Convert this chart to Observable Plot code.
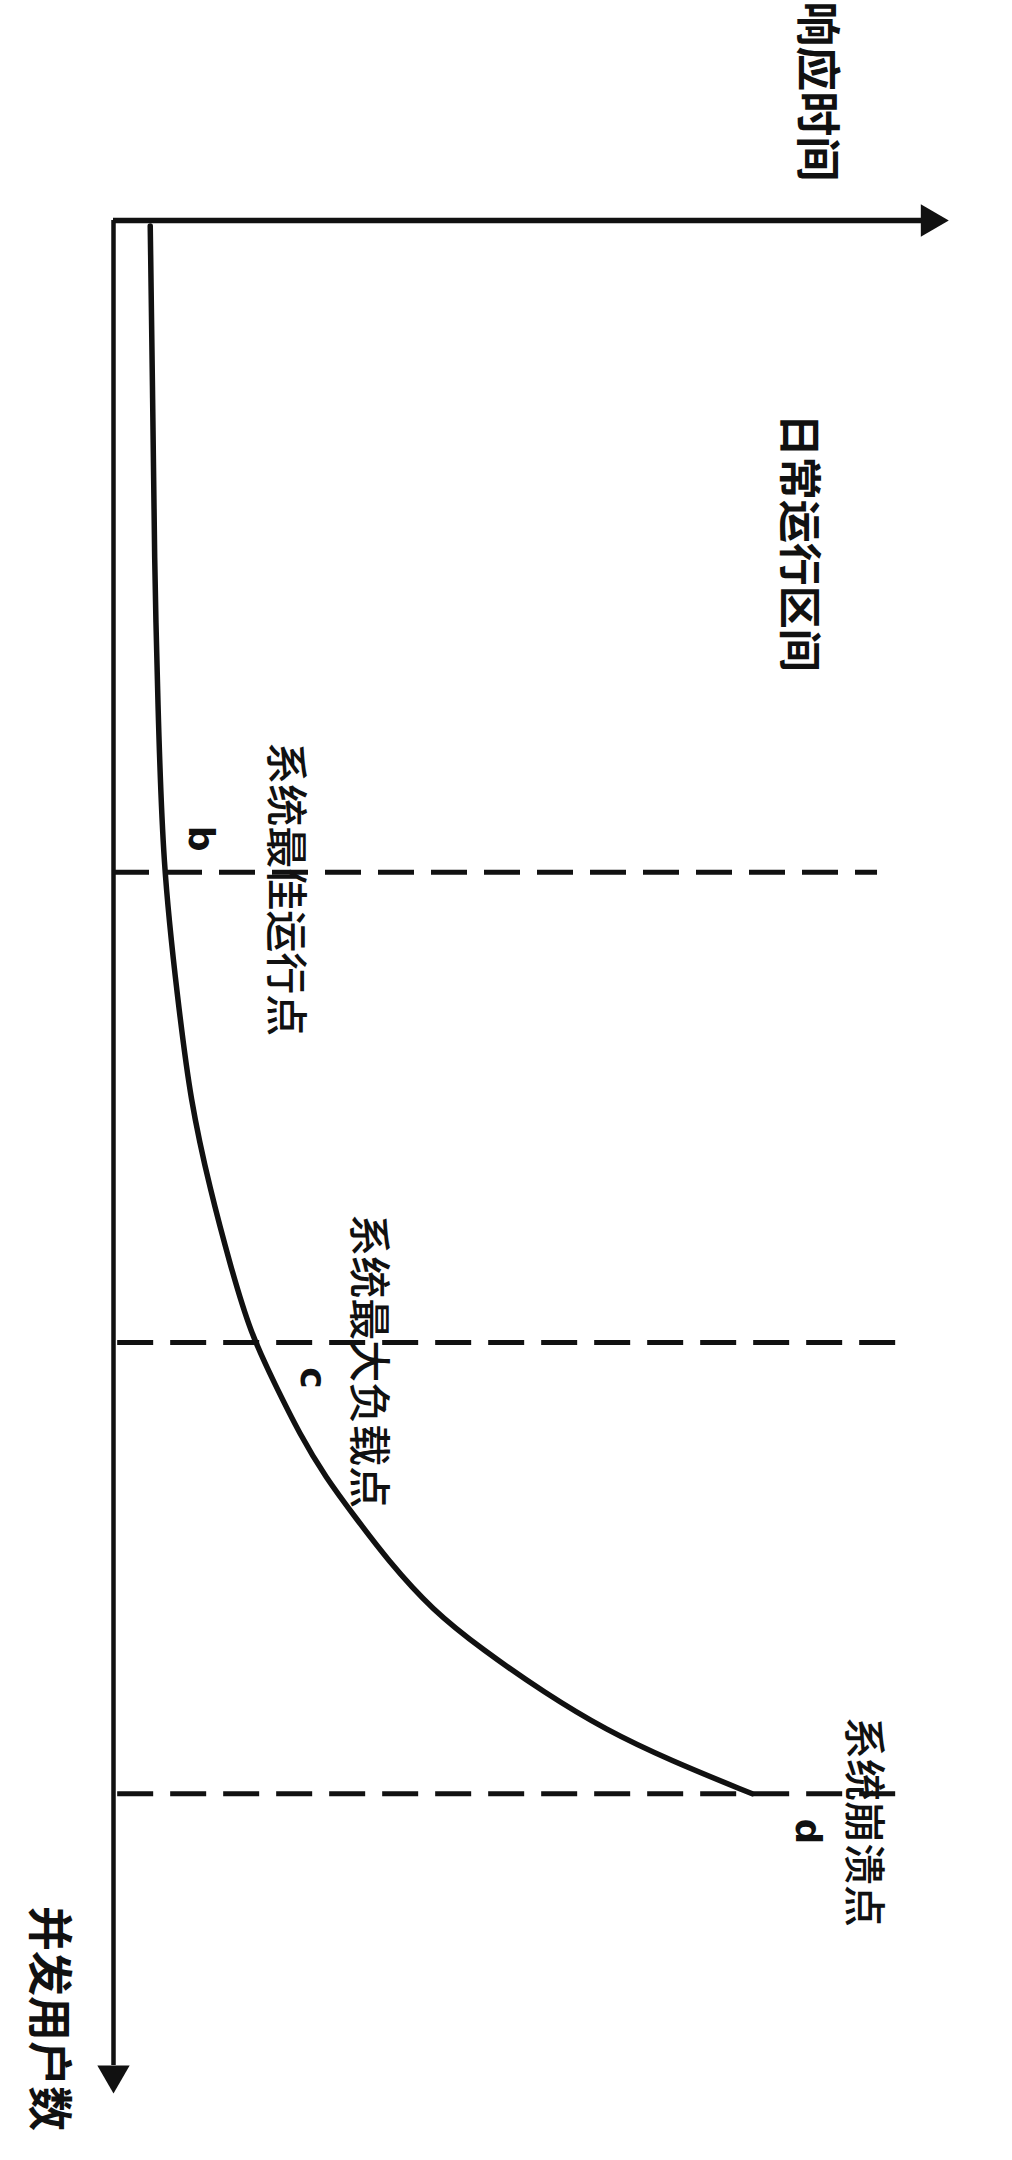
<!DOCTYPE html>
<html>
<head>
<meta charset="utf-8">
<script src="https://cdn.jsdelivr.net/npm/d3@7"></script>
<script src="https://cdn.jsdelivr.net/npm/@observablehq/plot@0.6"></script>
<style>
  html, body { margin: 0; padding: 0; background: #ffffff; }
  #chart svg { display: block; }
</style>
</head>
<body>
<div id="chart"></div>
<script>
// ---- Data (rotated chart: response time runs right, concurrent users run down) ----
// Curve: response time vs concurrent users (arbitrary 0–100 units)
const curveUsers = [0.3, 9.6, 18.2, 25.6, 34.5, 41.6, 47.0, 51.8, 55.8, 59.4, 62.1, 64.8, 67.1, 69.2, 71.5, 74.2, 76.3, 78.6, 80.6, 82.2, 84.0];
const curveResponse = [4.4, 4.7, 4.9, 5.3, 5.9, 7.7, 9.2, 11.6, 14.0, 16.4, 19.3, 22.3, 25.4, 28.9, 32.8, 38.2, 44.2, 51.6, 59.0, 66.6, 76.5];

// Dashed reference lines (users level, response-time extent)
const refUsers = [34.8, 59.9, 84.0];
const refStart = [0, 0.5, 0.5];
const refEnd = [91.5, 93.8, 95.7];

// Axis labels
const axisLabels = ["响应时间", "并发用户数"];
const axisLabelResponse = [84.1, -7.9];
const axisLabelUsers = [-6.9, 96.0];

// Annotations
const noteTexts = ["日常运行区间", "系统最佳运行点", "系统最大负载点", "系统崩溃点"];
const noteResponse = [82.0, 20.5, 30.4, 89.7];
const noteUsers = [17.2, 35.7, 60.9, 85.5];

// Point letters
const pointLetters = ["b", "c", "d"];
const pointResponse = [10.4, 23.8, 83.1];
const pointUsers = [33.0, 61.8, 86.0];

// ---- Build tables ----
const curve = curveUsers.map((u, i) => ({users: u, rt: curveResponse[i]}));
const refs = refUsers.map((u, i) => ({users: u, x1: refStart[i], x2: refEnd[i]}));
const axisText = axisLabels.map((t, i) => ({text: t, rt: axisLabelResponse[i], users: axisLabelUsers[i]}));
const notes = noteTexts.map((t, i) => ({text: t, rt: noteResponse[i], users: noteUsers[i]}));
const letters = pointLetters.map((t, i) => ({text: t, rt: pointResponse[i], users: pointUsers[i]}));
const arrowHeads = [
  {rt: 97.8, users: 0, angle: 90},
  {rt: 0, users: 99.0, angle: 180}
];

const ink = "#111111";
const cjk = "'Noto Sans CJK SC', 'Noto Sans', sans-serif";

const chart = Plot.plot({
  width: 1012,
  height: 2160,
  marginLeft: 113,
  marginRight: 64,
  marginTop: 220,
  marginBottom: 67,
  style: {background: "#ffffff"},
  x: {domain: [0, 100], axis: null},
  y: {domain: [0, 100], reverse: true, axis: null},
  marks: [
    // axes
    Plot.ruleY([0], {x1: 0, x2: 98, stroke: ink, strokeWidth: 5.5}),
    Plot.ruleX([0], {y1: 0, y2: 98.5, stroke: ink, strokeWidth: 4.5}),
    Plot.dot(arrowHeads, {x: "rt", y: "users", symbol: "triangle", r: 12, fill: ink, stroke: "none", rotate: "angle"}),
    // dashed reference lines
    Plot.ruleY(refs, {y: "users", x1: "x1", x2: "x2", stroke: ink, strokeWidth: 5, strokeDasharray: "36,17"}),
    // curve
    Plot.line(curve, {x: "rt", y: "users", curve: "basis", stroke: ink, strokeWidth: 5.5, strokeLinecap: "round"}),
    // texts
    Plot.text(axisText, {x: "rt", y: "users", text: "text", rotate: 90, fontSize: 45, fontWeight: "bold", fontFamily: cjk, fill: ink}),
    Plot.text(notes.slice(0, 1), {x: "rt", y: "users", text: "text", rotate: 90, fontSize: 43, fontWeight: "bold", fontFamily: cjk, fill: ink}),
    Plot.text(notes.slice(1), {x: "rt", y: "users", text: "text", rotate: 90, fontSize: 42, fontWeight: 500, fontFamily: cjk, fill: ink}),
    Plot.text(letters, {x: "rt", y: "users", text: "text", rotate: 90, fontSize: 36, fontWeight: "bold", fontFamily: "'DejaVu Sans', sans-serif", fill: ink})
  ]
});

document.getElementById("chart").appendChild(chart);
</script>
</body>
</html>
